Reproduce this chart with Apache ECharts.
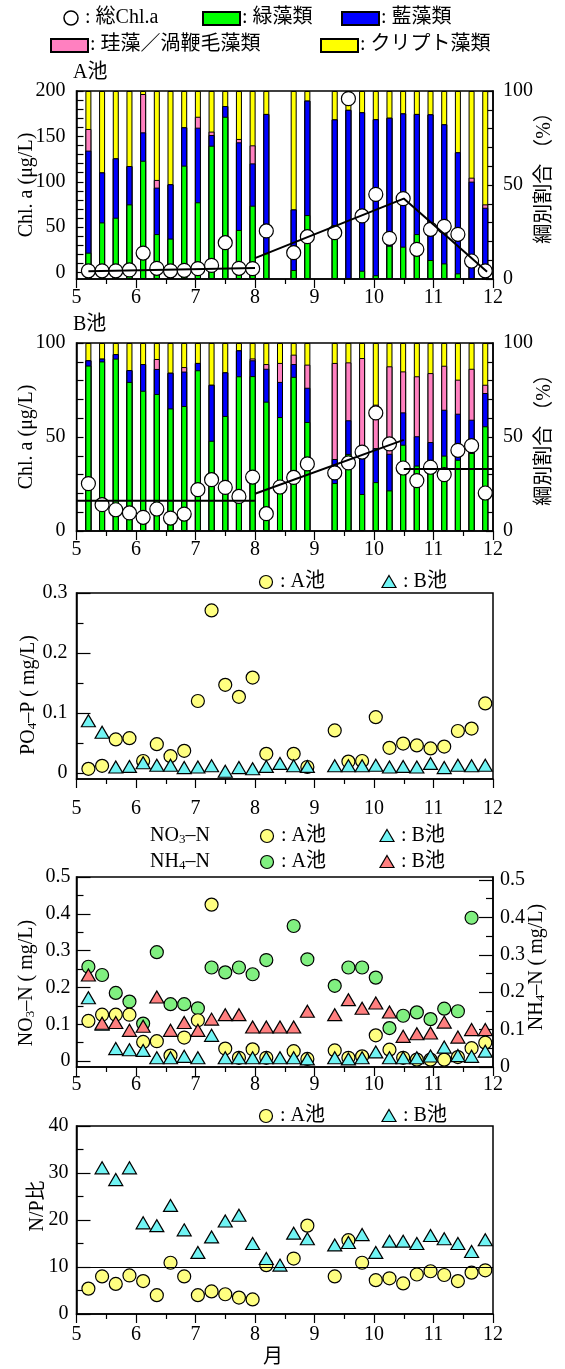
<!DOCTYPE html>
<html><head><meta charset="utf-8">
<script src="https://cdn.jsdelivr.net/npm/echarts@6/dist/echarts.min.js"></script>
<style>html,body{margin:0;padding:0;background:#fff}#c{width:565px;height:1369px}</style>
</head><body><div id="c"></div>
<script>
// sampling dates (month axis)
const months = [5.20,5.43,5.66,5.89,6.12,6.35,6.58,6.81,7.04,7.27,7.50,7.73,7.96,8.19,8.42,8.65,8.88,9.11,9.34,9.57,9.80,10.03,10.26,10.49,10.72,10.95,11.18,11.41,11.64,11.87];

// Pond A : total Chl.a (ug/L) and group shares (%)
const chlA   = [2,2,2,3,21.6,4.8,2,2.6,4.4,8,33,4.8,4.4,45.9,null,22,39.6,null,44,191.6,62.4,86.2,37.8,81.5,25.7,47.7,51,42.2,12.8,2];
const greenA = [14,30.1,32.6,39.7,62.9,23.9,21.5,60.3,40.8,70.9,86.3,26.1,39,13.7,null,4.8,34,null,28.7,0.5,4.4,2,17.7,17.2,23.9,10.1,8.3,3,0.3,0];
const blueA  = [54.3,26.6,31.6,20.4,15.1,24.7,28.9,20.4,39.7,5.7,5.7,46.6,22.5,74.1,null,32.2,60.9,null,56.2,89.5,84.3,83,68.1,70.9,63.9,77.5,74,64.4,51.5,37.9];
const pinkA  = [11.5,0,0,0,20.4,4.1,0,0,5.8,1.8,0,1.8,9.6,0,null,0,0,null,0,0,0,0,0,0,0,0,0,0,2.1,1.8];
const trendA = [[5.2,1.5],[8.0,5],[8.0,'-'],[8.0,16],[10.5,81.5],[11.9,1]];

// Pond B
const chlB   = [25.2,14,11.3,9.6,7.3,11.7,6.9,9,22,27.3,23.2,18.4,28.7,9.2,23.4,28.5,35.7,null,30.9,36.2,42,62.8,46.3,33.5,26.8,33.9,30,42.9,45.4,20.2];
const greenB = [88,90.2,91.7,79.3,74.6,72.9,65.2,66.5,85.5,48,61.2,82.3,82.4,68.8,60.6,82,58,null,25.5,41,19.7,26,21.6,45.9,34.8,37.9,40.1,37.9,41.5,55.7];
const blueB  = [2.8,1.5,2.4,6.3,14.2,13.3,19,18.3,3.9,29.8,23.2,13.8,8.4,17.5,18.7,6.8,18.2,null,12.8,17.9,19.1,18.1,19.5,17.2,15.6,9.4,24.4,24.5,17.7,17.7];
const pinkB  = [0,0,0,0,0,5.3,0,2.4,0,0,0,0,1,2.5,10.1,5,12.3,null,51.1,30.8,53.2,23.1,46.5,21.8,31.9,36.7,23.4,18.1,27.1,4.4];
const trendB = [[5.0,16.1],[8.0,16.1],[8.0,'-'],[8.0,19.8],[10.5,48.5],[10.5,'-'],[10.5,33],[12.0,33]];

// PO4-P (mg/L)
const po4A = [0.007,0.012,0.056,0.058,0.020,0.048,0.028,0.037,0.120,0.271,0.147,0.127,0.159,0.032,null,0.032,0.010,null,0.071,0.019,0.020,0.093,0.042,0.049,0.046,0.041,0.044,0.070,0.074,0.116];
const po4B = [0.087,0.068,0.010,0.011,0.017,0.013,0.013,0.009,0.010,0.012,0.003,0.009,0.007,0.011,0.016,0.012,0.011,null,0.012,0.012,0.012,0.013,0.010,0.011,0.010,0.016,0.009,0.013,0.012,0.013];

// NO3-N, NH4-N (mg/L)
const no3A = [0.109,0.126,0.126,0.126,0.052,0.054,0.015,0.064,0.111,0.425,0.034,0.009,0.032,0.009,null,0.027,0.006,null,0.029,0.009,0.013,0.070,0.031,0.009,0.004,0.004,0.004,0.011,0.035,0.050];
const no3B = [0.172,0.10,0.034,0.031,0.029,0.009,0.009,0.013,0.009,0.070,0.009,0.009,0.009,0.009,0.009,0.009,0.006,null,0.009,0.006,0.009,0.025,0.009,0.009,0.009,0.014,0.038,0.015,0.013,0.027];
const nh4A = [0.268,0.246,0.198,0.175,0.116,0.307,0.168,0.168,0.157,0.266,0.253,0.266,0.248,0.286,null,0.377,0.288,null,0.217,0.266,0.266,0.239,0.104,0.137,0.146,0.128,0.156,0.149,0.399,null];
const nh4B = [0.246,0.117,0.119,0.098,0.109,0.187,0.098,0.119,0.098,0.128,0.140,0.140,0.107,0.107,0.107,0.107,0.149,null,0.140,0.180,0.157,0.171,0.147,0.082,0.089,0.091,0.120,0.080,0.100,0.100];

// N/P ratio
const npA = [5.4,8.0,6.4,8.2,7.0,4.0,10.9,8.0,4.0,4.8,4.2,3.5,3.1,10.4,null,11.8,18.8,null,8.0,15.7,10.9,7.2,7.6,6.5,8.4,9.1,8.3,7.0,8.8,9.3];
const npB = [null,31.1,28.6,31.1,19.4,18.8,23.1,17.9,13.1,16.4,19.8,21.0,15.0,11.8,10.4,17.2,16.0,null,14.7,15.2,16.9,13.1,15.5,15.5,15.0,16.7,16.0,15.0,13.3,15.8];
const npRef = 10;

// tick labels
const tickChlA = [0,50,100,150,200];
const tickChlAMinor = [0,10,20,30,40,50,60,70,80,90,100,110,120,130,140,150,160,170,180,190,200];
const tickPct = [0,50,100];
const tickPctMinor = [0,10,20,30,40,50,60,70,80,90,100];
const tickPO4 = [0,0.1,0.2,0.3];
const tickPO4Minor = [0.05,0.15,0.25];
const tickN = [0,0.1,0.2,0.3,0.4,0.5];
const tickNMinor = [0.05,0.15,0.25,0.35,0.45];
const tickNP = [0,10,20,30,40];
const tickNPMinor = [5,15,25,35];

const FONT = '"Liberation Serif","Noto Sans CJK JP",serif';
const BLACK = '#000';

function pts(vals){ const o=[]; vals.forEach((v,i)=>{ if(v!=null) o.push([months[i], v]); }); return o; }
function cumBars(list){ // list of share arrays -> cumulative tops
  const o=[]; months.forEach((m,i)=>{ if(list[0][i]==null) return; let s=0; list.forEach(a=>{s+=a[i];}); o.push([m,s]); }); return o;
}
function yellowTop(g,b,p){ const o=[]; months.forEach((m,i)=>{ if(g[i]==null) return; const y=100-g[i]-b[i]-p[i]; o.push([m,g[i]+b[i]+p[i]+y]); }); return o; }

const grids = [
  {left:76.5, top:91,   width:416.5, height:188},
  {left:76.5, top:343,  width:416.5, height:188},
  {left:76.5, top:593,  width:416.5, height:186},
  {left:76.5, top:877,  width:416.5, height:190},
  {left:76.5, top:1126, width:416.5, height:188}
].map(g=>Object.assign({show:true, borderColor:BLACK, borderWidth:1.5, backgroundColor:'transparent', containLabel:false}, g));

function xAx(gi, margin){
  return {type:'value', gridIndex:gi, min:5, max:12, interval:1, position:'bottom',
    axisLine:{show:true, onZero:false, lineStyle:{color:BLACK, width:1.5}},
    axisTick:{show:true, inside:false, length:9, lineStyle:{color:BLACK, width:1.2}},
    minorTick:{show:true, splitNumber:2, length:5, lineStyle:{color:BLACK, width:1.2}},
    splitLine:{show:false}, minorSplitLine:{show:false},
    axisLabel:{color:BLACK, fontSize:20, fontFamily:FONT, margin:margin}};
}
function yAx(gi, pos, min, max, labels, ticks, tickLen, margin, showLine){
  return {type:'value', gridIndex:gi, position:pos, min:min, max:max, offset:0,
    axisLine:{show:showLine!==false, onZero:false, lineStyle:{color:BLACK, width:1.5}},
    axisTick:{show:true, inside:true, length:tickLen, customValues:ticks, lineStyle:{color:BLACK, width:1.2}},
    axisLabel:{show:!!labels, customValues:labels||[], color:BLACK, fontSize:20, fontFamily:FONT, margin:margin,
      formatter:(v)=>String(+(+v).toFixed(3))},
    splitLine:{show:false}, minorTick:{show:false}, minorSplitLine:{show:false}};
}

const xAxis = [xAx(0,9), xAx(1,9), xAx(2,20), xAx(3,8), xAx(4,11)];
const yAxis = [
  yAx(0,'left',-7,200,tickChlA,tickChlAMinor,7,11),          //0
  yAx(0,'right',0,100,tickPct,tickPctMinor,7,10),            //1
  yAx(1,'left',0,100,tickPct,tickPctMinor,7,11),             //2
  yAx(1,'right',0,100,tickPct,tickPctMinor,7,10),            //3
  yAx(2,'left',-0.01,0.3,tickPO4,tickPO4,14,9),              //4
  yAx(2,'left',-0.01,0.3,null,tickPO4Minor,7,9,false),       //5
  yAx(3,'left',-0.016,0.5,tickN,tickN,14,6),                 //6
  yAx(3,'left',-0.016,0.5,null,tickNMinor,7,6,false),        //7
  yAx(3,'right',0,0.508,tickN,tickN,14,7),                   //8
  yAx(3,'right',0,0.508,null,tickNMinor,7,7,false),          //9
  yAx(4,'left',0,40,tickNP,tickNP,14,8),                     //10
  yAx(4,'left',0,40,null,tickNPMinor,7,8,false)              //11
];

function bar(xi, yi, data, color){
  return {type:'bar', xAxisIndex:xi, yAxisIndex:yi, data:data, barWidth:6, barGap:'-100%',
    itemStyle:{color:color, borderColor:BLACK, borderWidth:1}, silent:true};
}
function scat(xi, yi, data, symbol, size, color){
  return {type:'scatter', xAxisIndex:xi, yAxisIndex:yi, data:data, symbol:symbol, symbolSize:size,
    itemStyle:{color:color, borderColor:BLACK, borderWidth:1.2, opacity:1}, silent:true};
}
function trend(xi, yi, data){
  return {type:'line', xAxisIndex:xi, yAxisIndex:yi, data:data, symbol:'none', connectNulls:false,
    lineStyle:{color:BLACK, width:2}, silent:true};
}

const GREEN='#00ff00', BLUE='#0000ff', PINK='#ff80c0', YEL='#ffff00';
const CYEL='#ffff80', CGRN='#80f080', CCYAN='#70f4f4', CRED='#ff7f7f';
const TRI=[14,12];

const series = [
  bar(0,1,yellowTop(greenA,blueA,pinkA),YEL),
  bar(0,1,cumBars([greenA,blueA,pinkA]),PINK),
  bar(0,1,cumBars([greenA,blueA]),BLUE),
  bar(0,1,cumBars([greenA]),GREEN),
  trend(0,0,trendA),
  scat(0,0,pts(chlA),'circle',14,'#fff'),

  bar(1,3,yellowTop(greenB,blueB,pinkB),YEL),
  bar(1,3,cumBars([greenB,blueB,pinkB]),PINK),
  bar(1,3,cumBars([greenB,blueB]),BLUE),
  bar(1,3,cumBars([greenB]),GREEN),
  trend(1,2,trendB),
  scat(1,2,pts(chlB),'circle',14,'#fff'),

  scat(2,4,pts(po4A),'circle',13,CYEL),
  scat(2,4,pts(po4B),'triangle',TRI,CCYAN),

  scat(3,8,pts(nh4A),'circle',13,CGRN),
  scat(3,6,pts(no3A),'circle',13,CYEL),
  scat(3,6,pts(no3B),'triangle',TRI,CCYAN),
  scat(3,8,pts(nh4B),'triangle',TRI,CRED),

  Object.assign(scat(4,10,pts(npA),'circle',13,CYEL), {markLine:{silent:true, symbol:'none', label:{show:false},
    lineStyle:{color:BLACK, width:1.2, type:'solid'}, data:[{yAxis:npRef}]}}),
  scat(4,10,pts(npB),'triangle',TRI,CCYAN)
];

function txt(x,y,text,opt){
  opt=opt||{};
  return {type:'text', x:x, y:y, rotation:opt.rot||0, silent:true,
    style:{text:text, x:0, y:0, fill:BLACK, fontSize:opt.size||20, fontFamily:FONT,
      align:opt.align||'left', verticalAlign:'middle', rich:opt.rich}};
}
function box(x,y,color){ return {type:'rect', shape:{x:x,y:y,width:37,height:13}, style:{fill:color, stroke:BLACK, lineWidth:2}, silent:true}; }
function circ(cx,cy,color){ return {type:'circle', shape:{cx:cx,cy:cy,r:6.5}, style:{fill:color, stroke:BLACK, lineWidth:1.2}, silent:true}; }
function tri(cx,cy,color){ return {type:'polygon', shape:{points:[[cx,cy-6.5],[cx+7,cy+5.5],[cx-7,cy+5.5]]}, style:{fill:color, stroke:BLACK, lineWidth:1.2}, silent:true}; }
const SUB = {s:{fontSize:13, fontFamily:FONT, verticalAlign:'bottom', padding:[8,0,0,0]}};
const ROT = Math.PI/2;

const graphic = [
  {type:'circle', shape:{cx:71,cy:18,r:7}, style:{fill:'#fff', stroke:BLACK, lineWidth:1.5}, silent:true},
  txt(80,18,' : 総Chl.a'),
  box(203,12,GREEN), txt(242,18,': 緑藻類'),
  box(342,12,BLUE),  txt(381,18,': 藍藻類'),
  box(51,39,PINK),   txt(90,45,': 珪藻／渦鞭毛藻類'),
  box(321,39,YEL),   txt(360,45,': クリプト藻類'),

  txt(73,73,'A池'),
  txt(73,325,'B池'),
  txt(27,185,'Chl. a (μg/L)',{rot:ROT,align:'center'}),
  txt(27,437,'Chl. a (μg/L)',{rot:ROT,align:'center'}),
  txt(545,173,'綱別割合 （%）',{rot:ROT,align:'center'}),
  txt(545,435,'綱別割合 （%）',{rot:ROT,align:'center'}),

  circ(266,582,CYEL), txt(275,582,' : A池'),
  tri(389,582,CCYAN), txt(398,582,' : B池'),
  txt(29,695,'PO{s|4}–P ( mg/L)',{rot:ROT,align:'center',rich:SUB}),

  txt(150,836,'NO{s|3}–N',{rich:SUB}),
  circ(267,836,CYEL), txt(276,836,' : A池'),
  tri(387,836,CCYAN), txt(396,836,' : B池'),
  txt(150,862,'NH{s|4}–N',{rich:SUB}),
  circ(267,862,CGRN), txt(276,862,' : A池'),
  tri(387,862,CRED), txt(396,862,' : B池'),
  txt(27,983,'NO{s|3}–N ( mg/L)',{rot:ROT,align:'center',rich:SUB}),
  txt(537,967,'NH{s|4}–N ( mg/L)',{rot:ROT,align:'center',rich:SUB}),

  circ(266,1116,CYEL), txt(275,1116,' : A池'),
  tri(389,1116,CCYAN), txt(398,1116,' : B池'),
  txt(38,1206,'N/P比',{rot:ROT,align:'center'}),
  txt(273,1358,'月',{align:'center'})
];

const chart = echarts.init(document.getElementById('c'), null, {renderer:'canvas'});
chart.setOption({animation:false, backgroundColor:'#fff', grid:grids, xAxis:xAxis, yAxis:yAxis, series:series, graphic:graphic});
</script></body></html>
